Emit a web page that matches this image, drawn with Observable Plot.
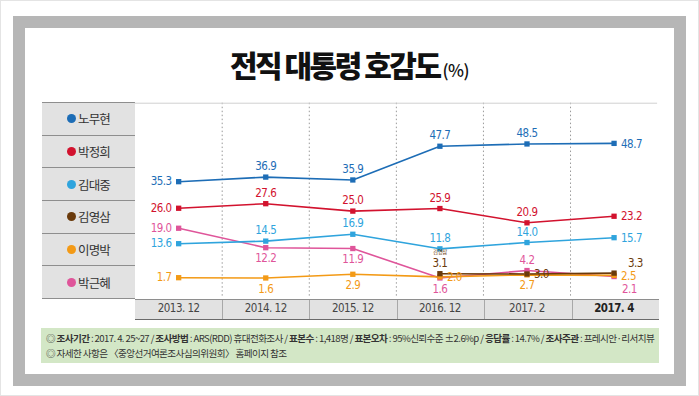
<!DOCTYPE html>
<html><head><meta charset="utf-8">
<script src="https://cdn.jsdelivr.net/npm/d3@7"></script>
<script src="https://cdn.jsdelivr.net/npm/@observablehq/plot@0.6"></script>
<style>
body{margin:0;background:#fff;}
#wrap{position:relative;width:699px;height:396px;overflow:hidden;font-family:"Noto Sans CJK KR",sans-serif;box-sizing:border-box;border:1px solid #e4e4e4;}
.abs{position:absolute;}
#frame{left:12px;top:15px;width:673px;height:370px;background:#b6b6b6;}
#panel{left:24px;top:27px;width:649px;height:346px;background:#fff;}
#title{left:24px;top:43px;width:649px;text-align:center;font-weight:900;font-size:30px;letter-spacing:-2.5px;color:#111;line-height:40px;}
#title span{font-size:17px;font-weight:500;letter-spacing:-0.5px;margin-left:3px;}
#legend{left:41px;top:101px;width:93px;}
.lrow{height:31.67px;border-top:1px solid #8e8e8e;background:#e2e2e2;display:flex;align-items:center;justify-content:center;font-size:12.5px;color:#333;letter-spacing:-0.8px;}
.lrow:last-child{border-bottom:1px solid #8e8e8e;}
.ldot{width:9px;height:9px;border-radius:50%;margin-right:2px;}
#xrow{left:134px;top:298px;width:524px;height:19px;background:#e2e2e2;border-top:1px solid #8e8e8e;border-bottom:1.5px solid #6a6a6a;display:flex;}
.xcell{flex:1;border-left:1px solid #a8a8a8;}
.xcell:first-child{border-left:none;}
#foot{left:40px;top:327px;width:618px;height:35px;background:#d3e7c6;font-size:9.6px;color:#333;letter-spacing:-0.6px;line-height:15px;padding:3px 0 0 5px;box-sizing:border-box;white-space:nowrap;}
#foot b{font-weight:700;}
#chart{left:0;top:0;}
#chart svg text{letter-spacing:-0.5px;}
</style></head><body><div id="wrap">
<div id="frame" class="abs"></div>
<div id="panel" class="abs"></div>
<div id="title" class="abs">전직 대통령 호감도<span>(%)</span></div>
<div id="legend" class="abs"></div>
<div id="xrow" class="abs"></div>
<div id="foot" class="abs"></div>
<div id="chart" class="abs"></div>
</div>
<script>
const periods = ["2013. 12","2014. 12","2015. 12","2016. 12","2017. 2","2017. 4"];
const names = ["노무현","박정희","김대중","김영삼","이명박","박근혜"];
const colors = ["#1d6db6","#d2122e","#2fa4dd","#6a3a0b","#f39a16","#df559a"];
const rohMH = [35.3,36.9,35.9,47.7,48.5,48.7];
const parkCH = [26.0,27.6,25.0,25.9,20.9,23.2];
const kimDJ = [13.6,14.5,16.9,11.8,14.0,15.7];
const kimYS = [null,null,null,3.1,3.0,3.3];
const leeMB = [1.7,1.6,2.9,2.0,2.7,2.5];
const parkGH = [19.0,12.2,11.9,1.6,4.2,2.1];
const series = [rohMH,parkCH,kimDJ,kimYS,leeMB,parkGH];
// value-label placement per point: L left, R right, T above, B below
const placement = [
  ["L","T","T","T","T","R"],
  ["L","T","T","T","T","R"],
  ["L","T","T","T","T","R"],
  [null,null,null,"T","R","TR"],
  ["L","B","B","R","B","R"],
  ["L","B","B","B","T","BR"]
];
const drawOrder = [5,4,2,1,0,3];
const footLines = [
  '◎ <b>조사기간</b> : 2017. 4. 25~27 / <b>조사방법</b> : ARS(RDD) 휴대전화조사 / <b>표본수</b> : 1,418명 / <b>표본오차</b> : 95%신뢰수준 ±2.6%p / <b>응답률</b> : 14.7% / <b>조사주관</b> : 프레시안·리서치뷰',
  '◎ 자세한 사항은 〈중앙선거여론조사심의위원회〉 홈페이지 참조'
];

// legend
const leg = document.getElementById("legend");
names.forEach((n,i)=>{
  const r = document.createElement("div"); r.className="lrow";
  r.innerHTML = `<span class="ldot" style="background:${colors[i]}"></span>${n}`;
  leg.appendChild(r);
});
const xr = document.getElementById("xrow");
periods.forEach(()=>{const c=document.createElement("div");c.className="xcell";xr.appendChild(c);});
document.getElementById("foot").innerHTML = footLines.join("<br>");

const rows = [];
drawOrder.forEach(si => series[si].forEach((v,i)=>{
  if (v != null) rows.push({name:names[si], i, v, pos:placement[si][i]});
}));
const numFont = '"Liberation Sans Narrow","DejaVu Sans Condensed",sans-serif';
const place = {
  L:{dx:-7,dy:0,textAnchor:"end"},
  R:{dx:7,dy:0.5,textAnchor:"start"},
  T:{dx:0,dy:-10.5,textAnchor:"middle"},
  B:{dx:0,dy:11,textAnchor:"middle"},
  TR:{dx:14,dy:-10,textAnchor:"start"},
  BR:{dx:8,dy:13,textAnchor:"start"}
};
const yMin = -5.63, yMax = 62.76;
const labelMarks = Object.entries(place).map(([k,o]) =>
  Plot.text(rows.filter(d=>d.pos===k), {x:"i", y:"v", text:d=>d.v.toFixed(1), fill:"name",
    fontSize:11.5, fontFamily:numFont, lineAnchor:"middle", ...o}));

const chart = Plot.plot({
  width:699, height:396, marginLeft:134, marginRight:41, marginTop:102, marginBottom:98,
  x:{domain:[-0.5, periods.length-0.5], axis:null},
  y:{domain:[yMin,yMax], axis:null},
  color:{domain:names, range:colors},
  style:{background:"transparent", overflow:"visible"},
  marks:[
    Plot.ruleX(periods.slice(1).map((_,i)=>i+0.5), {stroke:"#9a9a9a", strokeDasharray:"1.5,2.5"}),
    Plot.ruleY([yMax], {stroke:"#d0d0d0"}),
    Plot.line(rows, {x:"i", y:"v", z:"name", stroke:"name", strokeWidth:1.6}),
    Plot.dot(rows, {x:"i", y:"v", fill:"name", symbol:"square", r:3}),
    ...labelMarks,
    Plot.text(rows.filter(d=>d.name==="김영삼" && d.pos==="T"), {x:"i", y:"v", text:"name", fill:"name", fontSize:5.5, dy:-22, fontFamily:'"Noto Sans CJK KR",sans-serif'}),
    Plot.text(periods.slice(0,-1), {x:(d,i)=>i, text:d=>d, frameAnchor:"bottom", dy:10, lineAnchor:"middle", fontSize:11.5, fontFamily:numFont, fill:"#444"}),
    Plot.text(periods.slice(-1), {x:()=>periods.length-1, text:d=>d, frameAnchor:"bottom", dy:10, lineAnchor:"middle", fontSize:11.5, fontWeight:"bold", fontFamily:numFont, fill:"#222"})
  ]
});
document.getElementById("chart").appendChild(chart);
</script>
</body></html>
